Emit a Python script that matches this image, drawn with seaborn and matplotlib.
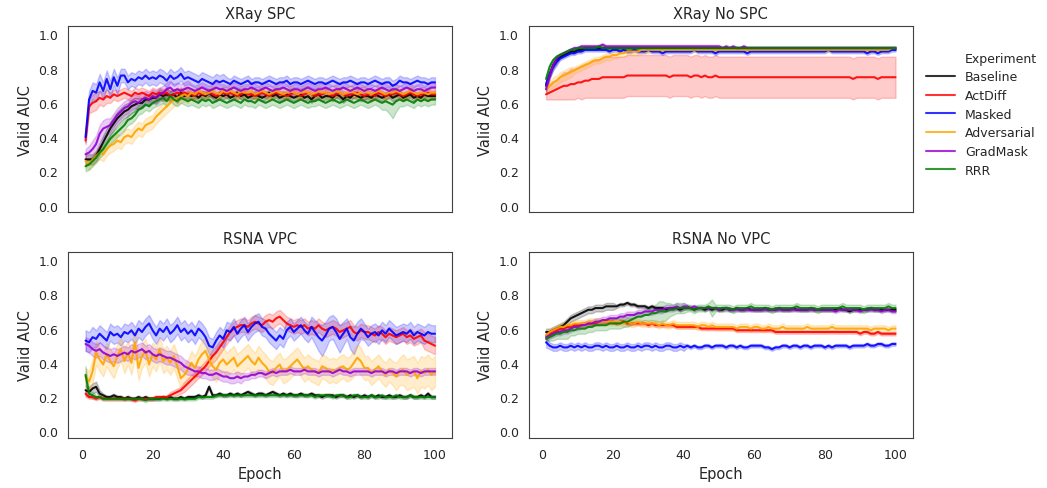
import numpy as np
import pandas as pd
import seaborn as sns
import matplotlib.pyplot as plt
from matplotlib.lines import Line2D

# validation AUC per epoch (x100), mean curve and half width of the shaded band
EPOCHS = list(range(1, 101))
EXPERIMENTS = ["Baseline", "ActDiff", "Masked", "Adversarial", "GradMask", "RRR"]
COLORS = ["black", "red", "blue", "orange", "darkviolet", "green"]
PANELS = ["XRay SPC", "XRay No SPC", "RSNA VPC", "RSNA No VPC"]

# ---------------- XRay SPC ----------------
xs_baseline = [
    27, 27, 27, 29, 33, 37, 41, 45, 48, 51,
    53, 55, 56, 58, 59, 60, 60, 62, 62, 63,
    63, 65, 64, 65, 64, 65, 63, 66, 64, 65,
    64, 65, 63, 65, 64, 66, 64, 63, 65, 64,
    65, 63, 64, 66, 64, 65, 63, 64, 65, 64,
    63, 64, 66, 64, 65, 63, 64, 65, 64, 63,
    64, 65, 63, 64, 62, 64, 65, 63, 64, 64,
    63, 65, 64, 62, 64, 63, 65, 64, 63, 64,
    64, 63, 65, 64, 63, 64, 65, 63, 64, 65,
    63, 64, 65, 63, 64, 63, 65, 64, 64, 64]
xs_baseline_ci = [
    3, 3, 3, 3, 3, 4, 4, 4, 4, 4,
    4, 4, 4, 4, 4, 3, 3, 3, 3, 3,
    3, 3, 3, 3, 3, 3, 3, 3, 2, 2,
    2, 2, 2, 2, 2, 2, 2, 2, 2, 2,
    2, 2, 2, 2, 2, 2, 2, 2, 2, 2,
    2, 2, 2, 2, 2, 2, 2, 2, 2, 2,
    2, 2, 2, 2, 2, 2, 2, 2, 2, 2,
    2, 2, 2, 2, 2, 2, 2, 2, 2, 2,
    2, 2, 2, 2, 2, 2, 2, 2, 2, 2,
    2, 2, 2, 2, 2, 2, 2, 2, 2, 2]
xs_actdiff = [
    38, 58, 60, 61, 63, 62, 64, 63, 65, 64,
    65, 66, 65, 64, 66, 65, 66, 65, 64, 66,
    65, 66, 65, 66, 64, 65, 66, 65, 66, 65,
    65, 64, 66, 65, 65, 66, 65, 64, 65, 66,
    65, 66, 65, 64, 65, 66, 65, 65, 64, 65,
    66, 65, 64, 65, 66, 65, 65, 64, 65, 66,
    65, 64, 65, 66, 65, 64, 65, 65, 66, 65,
    64, 65, 66, 65, 64, 65, 65, 66, 65, 64,
    65, 65, 64, 66, 65, 64, 65, 65, 66, 65,
    64, 65, 66, 65, 64, 65, 65, 66, 65, 65]
xs_actdiff_ci = [
    2, 4, 5, 5, 4, 4, 4, 3, 3, 3,
    3, 3, 3, 3, 3, 3, 3, 3, 3, 3,
    3, 3, 3, 3, 3, 3, 3, 3, 3, 3,
    2, 2, 2, 2, 2, 2, 2, 2, 2, 2,
    2, 2, 2, 2, 2, 2, 2, 2, 2, 2,
    2, 2, 2, 2, 2, 2, 2, 2, 2, 2,
    2, 2, 2, 2, 2, 2, 2, 2, 2, 2,
    2, 2, 2, 2, 2, 2, 2, 2, 2, 2,
    2, 2, 2, 2, 2, 2, 2, 2, 2, 2,
    2, 2, 2, 2, 2, 2, 2, 2, 2, 2]
xs_masked = [
    40, 62, 67, 66, 72, 67, 74, 68, 75, 70,
    76, 76, 72, 74, 73, 75, 74, 76, 74, 75,
    74, 76, 75, 73, 76, 74, 75, 77, 74, 75,
    74, 73, 72, 74, 73, 72, 71, 73, 72, 73,
    72, 71, 73, 72, 71, 72, 73, 71, 72, 72,
    71, 72, 73, 72, 71, 72, 72, 73, 71, 72,
    72, 71, 72, 73, 72, 71, 72, 72, 71, 72,
    73, 72, 71, 72, 72, 73, 72, 71, 72, 72,
    71, 72, 73, 72, 71, 72, 72, 70, 71, 73,
    72, 72, 71, 72, 73, 72, 72, 71, 72, 72]
xs_masked_ci = [
    3, 5, 5, 5, 5, 5, 5, 5, 5, 5,
    4, 4, 4, 4, 4, 4, 4, 4, 4, 4,
    4, 4, 4, 4, 4, 4, 4, 4, 4, 4,
    4, 4, 4, 4, 4, 4, 4, 4, 4, 4,
    3, 3, 3, 3, 3, 3, 3, 3, 3, 3,
    3, 3, 3, 3, 3, 3, 3, 3, 3, 3,
    3, 3, 3, 3, 3, 3, 3, 3, 3, 3,
    3, 3, 3, 3, 3, 3, 3, 3, 3, 3,
    3, 3, 3, 3, 3, 3, 3, 3, 3, 3,
    3, 3, 3, 3, 3, 3, 3, 3, 3, 3]
xs_adversarial = [
    26, 24, 27, 29, 31, 30, 33, 35, 36, 38,
    37, 40, 41, 40, 43, 45, 44, 47, 48, 49,
    52, 54, 56, 58, 60, 62, 63, 64, 65, 64,
    66, 65, 67, 66, 65, 66, 67, 66, 65, 67,
    66, 67, 66, 65, 67, 66, 66, 67, 65, 66,
    67, 66, 65, 66, 67, 66, 65, 66, 67, 66,
    65, 66, 67, 66, 65, 66, 67, 66, 66, 65,
    66, 67, 66, 65, 66, 67, 66, 65, 66, 67,
    66, 65, 66, 67, 66, 65, 66, 66, 67, 66,
    65, 66, 67, 66, 65, 66, 66, 65, 66, 66]
xs_adversarial_ci = [
    3, 3, 3, 3, 4, 4, 4, 4, 4, 4,
    4, 4, 4, 4, 4, 4, 4, 4, 4, 4,
    4, 4, 4, 4, 4, 4, 4, 4, 4, 4,
    3, 3, 3, 3, 3, 3, 3, 3, 3, 3,
    3, 3, 3, 3, 3, 3, 3, 3, 3, 3,
    3, 3, 3, 3, 3, 3, 3, 3, 3, 3,
    3, 3, 3, 3, 3, 3, 3, 3, 3, 3,
    3, 3, 3, 3, 3, 3, 3, 3, 3, 3,
    3, 3, 3, 3, 3, 3, 3, 3, 3, 3,
    3, 3, 3, 3, 3, 3, 3, 3, 3, 3]
xs_gradmask = [
    30, 31, 33, 36, 42, 45, 46, 47, 50, 53,
    55, 57, 58, 60, 61, 60, 62, 63, 62, 64,
    63, 65, 66, 68, 69, 67, 68, 67, 68, 69,
    68, 67, 68, 69, 68, 67, 68, 69, 68, 68,
    67, 68, 69, 68, 67, 68, 68, 69, 68, 67,
    68, 69, 68, 67, 68, 68, 69, 68, 67, 68,
    68, 67, 68, 69, 68, 67, 68, 68, 69, 68,
    67, 68, 68, 69, 68, 67, 68, 69, 68, 67,
    68, 68, 67, 68, 69, 68, 67, 68, 68, 67,
    68, 69, 68, 67, 68, 68, 67, 68, 69, 69]
xs_gradmask_ci = [
    3, 4, 5, 5, 5, 5, 5, 4, 4, 4,
    4, 4, 4, 4, 4, 4, 4, 4, 4, 4,
    4, 4, 4, 4, 4, 4, 4, 4, 4, 4,
    3, 3, 3, 3, 3, 3, 3, 3, 3, 3,
    3, 3, 3, 3, 3, 3, 3, 3, 3, 3,
    3, 3, 3, 3, 3, 3, 3, 3, 3, 3,
    3, 3, 3, 3, 3, 3, 3, 3, 3, 3,
    3, 3, 3, 3, 3, 3, 3, 3, 3, 3,
    3, 3, 3, 3, 3, 3, 3, 3, 3, 3,
    3, 3, 3, 3, 3, 3, 3, 3, 3, 3]
xs_rrr = [
    23, 24, 26, 28, 31, 33, 36, 39, 41, 43,
    45, 47, 50, 51, 53, 56, 57, 59, 58, 60,
    61, 62, 63, 61, 64, 62, 61, 63, 62, 61,
    62, 61, 60, 62, 61, 62, 60, 61, 62, 61,
    60, 61, 62, 61, 60, 62, 61, 61, 60, 62,
    61, 60, 61, 62, 61, 60, 61, 62, 61, 60,
    61, 62, 61, 60, 61, 61, 62, 61, 60, 61,
    62, 61, 60, 61, 62, 61, 60, 61, 62, 61,
    60, 61, 62, 61, 60, 61, 60, 59, 61, 62,
    61, 62, 61, 60, 62, 61, 62, 61, 62, 62]
xs_rrr_ci = [
    3, 3, 3, 3, 3, 3, 3, 3, 3, 3,
    3, 3, 3, 3, 3, 3, 3, 3, 3, 3,
    3, 3, 3, 3, 3, 3, 3, 3, 3, 3,
    3, 3, 3, 3, 3, 3, 3, 3, 3, 3,
    3, 3, 3, 3, 3, 3, 3, 3, 3, 3,
    3, 3, 3, 3, 3, 3, 3, 3, 3, 3,
    3, 3, 3, 3, 3, 3, 3, 3, 3, 3,
    3, 3, 3, 3, 3, 3, 3, 3, 3, 3,
    3, 3, 3, 3, 4, 5, 6, 8, 6, 4,
    3, 3, 3, 3, 3, 3, 3, 3, 3, 3]

# ---------------- XRay No SPC ----------------
xn_baseline = [
    70, 76, 82, 85, 87, 88, 89, 90, 90, 91,
    91, 92, 92, 92, 92, 92, 92, 92, 92, 92,
    92, 92, 92, 92, 92, 92, 92, 92, 92, 92,
    92, 92, 92, 92, 92, 92, 92, 92, 92, 92,
    92, 92, 92, 92, 92, 92, 92, 92, 92, 92,
    92, 92, 92, 92, 92, 92, 92, 92, 92, 92,
    92, 92, 92, 92, 92, 92, 92, 92, 92, 92,
    92, 92, 92, 92, 92, 92, 92, 92, 92, 92,
    92, 92, 92, 92, 92, 92, 92, 92, 92, 92,
    92, 92, 92, 92, 92, 92, 92, 92, 92, 92]
xn_baseline_ci = [
    3, 2, 2, 2, 1, 1, 1, 1, 1, 1,
    1, 1, 1, 1, 1, 1, 1, 1, 1, 1,
    1, 1, 1, 1, 1, 1, 1, 1, 1, 1,
    1, 1, 1, 1, 1, 1, 1, 1, 1, 1,
    1, 1, 1, 1, 1, 1, 1, 1, 1, 1,
    1, 1, 1, 1, 1, 1, 1, 1, 1, 1,
    1, 1, 1, 1, 1, 1, 1, 1, 1, 1,
    1, 1, 1, 1, 1, 1, 1, 1, 1, 1,
    1, 1, 1, 1, 1, 1, 1, 1, 1, 1,
    1, 1, 1, 1, 1, 1, 1, 1, 1, 1]
xn_actdiff = [
    65, 66, 67, 68, 69, 70, 70, 71, 71, 72,
    72, 73, 73, 74, 74, 74, 75, 75, 75, 75,
    75, 75, 75, 76, 76, 76, 76, 76, 76, 76,
    76, 76, 76, 76, 76, 75, 76, 76, 76, 76,
    76, 75, 76, 76, 75, 76, 75, 75, 76, 75,
    75, 75, 75, 75, 75, 75, 75, 75, 75, 75,
    75, 75, 75, 75, 75, 75, 75, 75, 75, 75,
    75, 75, 75, 75, 75, 75, 75, 75, 75, 75,
    75, 75, 75, 75, 75, 75, 75, 74, 75, 75,
    75, 75, 75, 75, 74, 75, 75, 75, 75, 75]
xn_actdiff_ci = [
    3, 4, 5, 6, 7, 8, 8, 9, 9, 9,
    10, 10, 10, 11, 11, 11, 12, 12, 12, 12,
    12, 12, 12, 12, 12, 12, 12, 12, 12, 12,
    12, 12, 12, 12, 12, 12, 12, 12, 12, 12,
    12, 12, 12, 12, 12, 12, 12, 12, 12, 12,
    12, 12, 12, 12, 12, 12, 12, 12, 12, 12,
    12, 12, 12, 12, 12, 12, 12, 12, 12, 12,
    12, 12, 12, 12, 12, 12, 12, 12, 12, 12,
    12, 12, 12, 12, 12, 12, 12, 12, 12, 12,
    12, 12, 12, 12, 12, 12, 12, 12, 12, 12]
xn_masked = [
    71, 77, 81, 84, 86, 87, 88, 89, 89, 90,
    90, 91, 91, 91, 91, 91, 91, 91, 90, 91,
    91, 90, 91, 90, 90, 91, 90, 90, 90, 91,
    90, 90, 90, 89, 90, 90, 90, 90, 90, 90,
    90, 90, 91, 90, 90, 90, 90, 90, 89, 90,
    90, 90, 90, 90, 90, 90, 90, 89, 90, 90,
    90, 90, 90, 90, 90, 90, 90, 90, 90, 90,
    90, 90, 90, 90, 90, 90, 90, 90, 90, 90,
    91, 90, 90, 90, 90, 90, 90, 90, 90, 90,
    90, 89, 90, 90, 89, 90, 90, 90, 91, 91]
xn_masked_ci = [
    3, 2, 2, 2, 1, 1, 1, 1, 1, 1,
    1, 1, 1, 1, 1, 1, 1, 1, 1, 1,
    1, 1, 1, 1, 1, 1, 1, 1, 1, 1,
    1, 1, 1, 1, 1, 1, 1, 1, 1, 1,
    1, 1, 1, 1, 1, 1, 1, 1, 1, 1,
    1, 1, 1, 1, 1, 1, 1, 1, 1, 1,
    1, 1, 1, 1, 1, 1, 1, 1, 1, 1,
    1, 1, 1, 1, 1, 1, 1, 1, 1, 1,
    1, 1, 1, 1, 1, 1, 1, 1, 1, 1,
    1, 1, 1, 1, 1, 1, 1, 1, 1, 1]
xn_adversarial = [
    68, 70, 72, 73, 75, 76, 77, 78, 79, 80,
    81, 82, 83, 84, 85, 85, 86, 87, 87, 88,
    88, 89, 89, 90, 90, 90, 90, 91, 91, 91,
    91, 91, 91, 91, 91, 91, 91, 91, 91, 91,
    91, 91, 91, 91, 91, 91, 91, 91, 91, 91,
    91, 91, 91, 91, 91, 91, 91, 91, 91, 91,
    91, 91, 91, 91, 91, 91, 91, 91, 91, 91,
    91, 91, 91, 91, 91, 91, 91, 91, 91, 91,
    91, 91, 91, 91, 91, 91, 91, 91, 91, 91,
    91, 91, 91, 91, 91, 91, 91, 91, 92, 92]
xn_adversarial_ci = [
    2, 2, 3, 3, 3, 3, 3, 3, 2, 2,
    2, 2, 2, 2, 2, 2, 2, 2, 2, 2,
    2, 2, 2, 2, 2, 2, 2, 2, 2, 2,
    1, 1, 1, 1, 1, 1, 1, 1, 1, 1,
    1, 1, 1, 1, 1, 1, 1, 1, 1, 1,
    1, 1, 1, 1, 1, 1, 1, 1, 1, 1,
    1, 1, 1, 1, 1, 1, 1, 1, 1, 1,
    1, 1, 1, 1, 1, 1, 1, 1, 1, 1,
    1, 1, 1, 1, 1, 1, 1, 1, 1, 1,
    1, 1, 1, 1, 1, 1, 1, 1, 1, 1]
xn_gradmask = [
    68, 76, 82, 86, 88, 89, 90, 91, 92, 92,
    93, 93, 93, 93, 93, 93, 94, 93, 93, 93,
    93, 93, 93, 93, 93, 93, 93, 93, 93, 93,
    93, 93, 93, 93, 93, 93, 93, 93, 93, 93,
    93, 93, 93, 93, 93, 93, 93, 93, 93, 93,
    92, 93, 92, 93, 92, 92, 93, 92, 92, 92,
    92, 92, 92, 92, 92, 92, 92, 92, 92, 92,
    92, 92, 92, 92, 92, 92, 92, 92, 92, 92,
    92, 92, 92, 92, 92, 92, 92, 92, 92, 92,
    92, 92, 92, 92, 92, 92, 92, 92, 92, 92]
xn_gradmask_ci = [
    2, 2, 2, 2, 1, 1, 1, 1, 1, 1,
    1, 1, 1, 1, 1, 1, 1, 1, 1, 1,
    1, 1, 1, 1, 1, 1, 1, 1, 1, 1,
    1, 1, 1, 1, 1, 1, 1, 1, 1, 1,
    1, 1, 1, 1, 1, 1, 1, 1, 1, 1,
    1, 1, 1, 1, 1, 1, 1, 1, 1, 1,
    1, 1, 1, 1, 1, 1, 1, 1, 1, 1,
    1, 1, 1, 1, 1, 1, 1, 1, 1, 1,
    1, 1, 1, 1, 1, 1, 1, 1, 1, 1,
    1, 1, 1, 1, 1, 1, 1, 1, 1, 1]
xn_rrr = [
    74, 81, 85, 87, 88, 89, 90, 91, 91, 92,
    92, 92, 92, 92, 92, 93, 92, 92, 92, 92,
    92, 92, 92, 92, 92, 92, 92, 92, 92, 92,
    92, 92, 92, 92, 92, 92, 92, 92, 92, 92,
    92, 92, 92, 92, 92, 92, 92, 92, 92, 92,
    92, 92, 92, 92, 92, 92, 92, 92, 92, 92,
    92, 92, 92, 92, 92, 92, 92, 92, 92, 92,
    92, 92, 92, 92, 92, 92, 92, 92, 92, 92,
    92, 92, 92, 92, 92, 92, 92, 92, 92, 92,
    92, 92, 92, 92, 92, 92, 92, 92, 92, 92]
xn_rrr_ci = [
    2, 2, 1, 1, 1, 1, 1, 1, 1, 1,
    1, 1, 1, 1, 1, 1, 1, 1, 1, 1,
    1, 1, 1, 1, 1, 1, 1, 1, 1, 1,
    1, 1, 1, 1, 1, 1, 1, 1, 1, 1,
    1, 1, 1, 1, 1, 1, 1, 1, 1, 1,
    1, 1, 1, 1, 1, 1, 1, 1, 1, 1,
    1, 1, 1, 1, 1, 1, 1, 1, 1, 1,
    1, 1, 1, 1, 1, 1, 1, 1, 1, 1,
    1, 1, 1, 1, 1, 1, 1, 1, 1, 1,
    1, 1, 1, 1, 1, 1, 1, 1, 1, 1]

# ---------------- RSNA VPC ----------------
rv_baseline = [
    24, 23, 25, 26, 22, 21, 20, 20, 21, 20,
    20, 19, 20, 19, 19, 20, 19, 20, 19, 19,
    19, 19, 20, 19, 20, 19, 19, 20, 19, 20,
    20, 20, 21, 20, 21, 26, 21, 21, 22, 21,
    21, 22, 21, 22, 21, 22, 23, 22, 21, 22,
    22, 21, 22, 23, 22, 21, 22, 21, 22, 21,
    21, 22, 21, 21, 22, 21, 21, 20, 21, 21,
    21, 20, 21, 21, 20, 21, 20, 21, 20, 21,
    20, 21, 20, 21, 20, 20, 21, 20, 20, 21,
    20, 20, 21, 20, 20, 21, 20, 22, 20, 20]
rv_baseline_ci = [
    3, 3, 3, 3, 2, 1, 1, 1, 1, 1,
    1, 1, 1, 1, 1, 1, 1, 1, 1, 1,
    1, 1, 1, 1, 1, 1, 1, 1, 1, 1,
    1, 1, 1, 1, 1, 1, 1, 1, 1, 1,
    1, 1, 1, 1, 1, 1, 1, 1, 1, 1,
    1, 1, 1, 1, 1, 1, 1, 1, 1, 1,
    1, 1, 1, 1, 1, 1, 1, 1, 1, 1,
    1, 1, 1, 1, 1, 1, 1, 1, 1, 1,
    1, 1, 1, 1, 1, 1, 1, 1, 1, 1,
    1, 1, 1, 1, 1, 1, 1, 1, 1, 1]
rv_actdiff = [
    22, 20, 20, 19, 20, 19, 19, 19, 19, 19,
    19, 19, 19, 19, 18, 19, 19, 19, 19, 19,
    20, 20, 20, 20, 21, 22, 23, 24, 26, 28,
    30, 32, 34, 36, 38, 41, 44, 46, 49, 52,
    55, 58, 60, 61, 62, 62, 61, 63, 64, 63,
    62, 64, 65, 64, 66, 67, 65, 63, 62, 61,
    62, 61, 62, 60, 61, 60, 62, 60, 59, 60,
    61, 60, 58, 59, 60, 61, 58, 57, 59, 58,
    58, 57, 56, 58, 57, 55, 57, 56, 55, 56,
    57, 55, 56, 54, 55, 56, 53, 52, 51, 50]
rv_actdiff_ci = [
    2, 1, 1, 1, 1, 1, 1, 1, 1, 1,
    1, 1, 1, 1, 1, 1, 1, 1, 1, 1,
    1, 1, 1, 1, 2, 2, 2, 2, 3, 3,
    3, 3, 3, 3, 3, 3, 4, 4, 4, 4,
    4, 4, 4, 4, 4, 4, 4, 4, 4, 4,
    4, 4, 4, 4, 4, 4, 4, 4, 4, 4,
    4, 4, 4, 4, 4, 4, 4, 4, 4, 4,
    4, 4, 4, 4, 4, 4, 4, 4, 4, 4,
    4, 4, 4, 4, 4, 4, 4, 4, 4, 4,
    4, 4, 4, 4, 4, 4, 5, 5, 5, 5]
rv_masked = [
    53, 52, 55, 54, 57, 55, 53, 58, 56, 57,
    55, 58, 57, 59, 56, 60, 58, 61, 63, 59,
    56, 60, 58, 61, 57, 59, 62, 58, 60, 57,
    59, 56, 60, 58, 55, 50, 49, 53, 56, 54,
    59, 58, 61, 57, 60, 62, 58, 61, 63, 64,
    61, 60, 57, 55, 53, 56, 54, 59, 61, 58,
    60, 62, 59, 57, 61, 58, 55, 53, 56, 60,
    61, 58, 54, 57, 60, 55, 53, 57, 60, 58,
    55, 57, 58, 56, 59, 57, 60, 58, 56, 57,
    58, 57, 59, 56, 58, 57, 56, 58, 57, 57]
rv_masked_ci = [
    6, 6, 6, 5, 5, 5, 5, 5, 5, 5,
    5, 5, 5, 5, 5, 5, 5, 5, 5, 5,
    5, 5, 5, 5, 5, 5, 5, 5, 5, 5,
    5, 5, 5, 5, 5, 5, 5, 5, 5, 5,
    5, 5, 5, 5, 5, 5, 5, 5, 5, 5,
    5, 5, 5, 5, 5, 5, 5, 5, 5, 5,
    5, 5, 5, 5, 6, 7, 8, 9, 8, 7,
    7, 8, 8, 7, 6, 7, 8, 7, 6, 5,
    5, 5, 5, 5, 5, 5, 5, 5, 5, 5,
    5, 5, 5, 5, 5, 5, 5, 5, 5, 5]
rv_adversarial = [
    32, 29, 35, 46, 42, 39, 45, 41, 38, 44,
    48, 41, 46, 40, 52, 37, 44, 47, 39, 45,
    42, 48, 41, 43, 40, 44, 38, 31, 33, 36,
    40, 37, 42, 45, 47, 42, 38, 36, 40, 42,
    39, 41, 43, 38, 40, 42, 44, 41, 39, 43,
    40, 38, 35, 34, 37, 39, 35, 36, 38, 40,
    42, 39, 36, 38, 36, 35, 34, 38, 37, 35,
    36, 35, 37, 38, 36, 37, 40, 43, 41, 37,
    37, 34, 36, 38, 35, 33, 36, 34, 32, 35,
    36, 33, 34, 35, 31, 35, 34, 36, 33, 35]
rv_adversarial_ci = [
    5, 6, 7, 7, 7, 7, 7, 7, 7, 7,
    7, 7, 7, 7, 8, 7, 7, 7, 7, 7,
    7, 7, 7, 7, 7, 7, 7, 6, 6, 6,
    7, 7, 7, 8, 8, 7, 7, 7, 7, 7,
    7, 7, 7, 7, 7, 7, 7, 7, 7, 7,
    7, 7, 7, 7, 7, 7, 7, 7, 7, 7,
    7, 7, 7, 7, 7, 7, 7, 7, 7, 7,
    7, 7, 7, 7, 7, 7, 8, 8, 8, 7,
    7, 7, 7, 7, 7, 7, 7, 7, 8, 8,
    9, 9, 9, 9, 9, 9, 9, 9, 9, 9]
rv_gradmask = [
    51, 50, 48, 47, 48, 46, 45, 44, 45, 44,
    45, 46, 45, 47, 46, 47, 48, 46, 47, 45,
    44, 45, 44, 43, 43, 42, 41, 40, 38, 37,
    36, 35, 35, 34, 34, 33, 33, 34, 33, 32,
    32, 31, 31, 32, 31, 32, 32, 33, 33, 34,
    34, 33, 34, 35, 34, 35, 35, 35, 36, 35,
    35, 35, 36, 35, 35, 35, 34, 35, 35, 35,
    34, 35, 36, 35, 35, 34, 35, 35, 35, 35,
    35, 34, 35, 35, 35, 34, 35, 35, 34, 35,
    35, 35, 34, 35, 35, 34, 35, 35, 35, 35]
rv_gradmask_ci = [
    4, 4, 4, 4, 4, 4, 4, 4, 4, 4,
    4, 4, 4, 4, 4, 4, 4, 4, 4, 4,
    4, 4, 4, 4, 4, 4, 4, 4, 4, 4,
    3, 3, 3, 3, 3, 3, 3, 3, 3, 3,
    3, 3, 3, 3, 3, 2, 2, 2, 2, 2,
    2, 2, 2, 2, 2, 2, 2, 2, 2, 2,
    2, 2, 2, 2, 2, 2, 2, 2, 2, 2,
    2, 2, 2, 2, 2, 2, 2, 2, 2, 2,
    2, 2, 2, 2, 2, 2, 2, 2, 2, 2,
    2, 2, 2, 2, 2, 2, 2, 2, 2, 2]
rv_rrr = [
    33, 22, 21, 20, 20, 19, 19, 19, 19, 19,
    19, 19, 19, 19, 19, 19, 19, 18, 19, 19,
    19, 19, 19, 19, 19, 19, 19, 19, 19, 19,
    19, 19, 20, 20, 20, 20, 20, 21, 21, 21,
    21, 21, 21, 21, 21, 21, 21, 21, 21, 21,
    21, 21, 21, 21, 21, 21, 21, 21, 21, 21,
    21, 21, 21, 21, 21, 20, 21, 21, 21, 21,
    20, 21, 21, 21, 20, 20, 21, 21, 20, 20,
    20, 21, 20, 20, 21, 20, 20, 20, 21, 20,
    20, 20, 21, 20, 20, 20, 20, 20, 20, 20]
rv_rrr_ci = [
    5, 2, 2, 1, 1, 1, 1, 1, 1, 1,
    1, 1, 1, 1, 1, 1, 1, 1, 1, 1,
    1, 1, 1, 1, 1, 1, 1, 1, 1, 1,
    1, 1, 1, 1, 1, 1, 1, 1, 1, 1,
    1, 1, 1, 1, 1, 1, 1, 1, 1, 1,
    1, 1, 1, 1, 1, 1, 1, 1, 1, 1,
    1, 1, 1, 1, 1, 1, 1, 1, 1, 1,
    1, 1, 1, 1, 1, 1, 1, 1, 1, 1,
    1, 1, 1, 1, 1, 1, 1, 1, 1, 1,
    1, 1, 1, 1, 1, 1, 1, 1, 1, 1]

# ---------------- RSNA No VPC ----------------
rn_baseline = [
    58, 58, 59, 60, 61, 62, 64, 66, 67, 68,
    69, 70, 71, 71, 72, 72, 72, 73, 73, 73,
    73, 74, 74, 75, 74, 74, 73, 73, 73, 72,
    73, 72, 72, 72, 71, 72, 72, 72, 71, 72,
    72, 72, 71, 72, 72, 71, 72, 71, 72, 71,
    71, 72, 71, 71, 72, 71, 71, 72, 71, 71,
    71, 71, 72, 71, 71, 71, 72, 71, 71, 71,
    72, 71, 71, 71, 71, 72, 71, 71, 71, 71,
    71, 71, 71, 72, 71, 71, 70, 71, 71, 71,
    71, 71, 72, 71, 71, 71, 71, 71, 71, 71]
rn_baseline_ci = [
    2, 2, 2, 2, 2, 2, 2, 2, 2, 2,
    2, 2, 2, 2, 2, 2, 2, 2, 2, 2,
    1, 1, 1, 1, 1, 1, 1, 1, 1, 1,
    1, 1, 1, 1, 1, 1, 1, 1, 1, 1,
    1, 1, 1, 1, 1, 1, 1, 1, 1, 1,
    1, 1, 1, 1, 1, 1, 1, 1, 1, 1,
    1, 1, 1, 1, 1, 1, 1, 1, 1, 1,
    1, 1, 1, 1, 1, 1, 1, 1, 1, 1,
    1, 1, 1, 1, 1, 1, 1, 1, 1, 1,
    1, 1, 1, 1, 1, 1, 1, 1, 1, 1]
rn_actdiff = [
    56, 57, 58, 59, 60, 60, 61, 61, 62, 62,
    62, 63, 63, 63, 63, 64, 64, 64, 64, 64,
    63, 64, 64, 63, 63, 63, 63, 63, 63, 62,
    63, 62, 62, 62, 62, 62, 62, 61, 61, 61,
    61, 61, 61, 61, 60, 60, 60, 60, 60, 60,
    60, 60, 60, 60, 59, 59, 59, 59, 59, 59,
    59, 59, 59, 59, 59, 58, 58, 58, 58, 58,
    58, 58, 58, 58, 58, 58, 58, 58, 58, 58,
    58, 58, 58, 58, 58, 58, 58, 58, 58, 57,
    58, 58, 57, 57, 58, 57, 57, 57, 57, 57]
rn_actdiff_ci = [
    2, 2, 2, 1, 1, 1, 1, 1, 1, 1,
    1, 1, 1, 1, 1, 1, 1, 1, 1, 1,
    1, 1, 1, 1, 1, 1, 1, 1, 1, 1,
    1, 1, 1, 1, 1, 1, 1, 1, 1, 1,
    1, 1, 1, 1, 1, 1, 1, 1, 1, 1,
    1, 1, 1, 1, 1, 1, 1, 1, 1, 1,
    1, 1, 1, 1, 1, 1, 1, 1, 1, 1,
    1, 1, 1, 1, 1, 1, 1, 1, 1, 1,
    1, 1, 1, 1, 1, 1, 1, 1, 1, 1,
    1, 1, 1, 1, 1, 1, 1, 1, 1, 1]
rn_masked = [
    52, 50, 49, 49, 50, 49, 49, 50, 49, 50,
    49, 50, 49, 49, 50, 50, 49, 50, 49, 49,
    50, 49, 49, 50, 49, 49, 50, 49, 50, 50,
    49, 50, 49, 49, 50, 50, 49, 49, 50, 49,
    50, 49, 50, 49, 49, 50, 50, 49, 50, 50,
    50, 49, 50, 50, 49, 50, 49, 49, 50, 50,
    50, 50, 49, 49, 48, 49, 49, 50, 50, 49,
    50, 50, 49, 50, 50, 49, 50, 50, 50, 49,
    50, 49, 50, 50, 50, 50, 49, 50, 50, 50,
    50, 51, 50, 50, 51, 51, 50, 50, 51, 51]
rn_masked_ci = [
    3, 2, 2, 2, 2, 2, 2, 2, 2, 2,
    2, 2, 2, 2, 2, 2, 2, 2, 2, 2,
    2, 2, 2, 2, 2, 2, 2, 2, 2, 2,
    2, 2, 2, 2, 2, 2, 2, 2, 2, 2,
    1, 1, 1, 1, 1, 1, 1, 1, 1, 1,
    1, 1, 1, 1, 1, 1, 1, 1, 1, 1,
    1, 1, 1, 1, 1, 1, 1, 1, 1, 1,
    1, 1, 1, 1, 1, 1, 1, 1, 1, 1,
    1, 1, 1, 1, 1, 1, 1, 1, 1, 1,
    1, 1, 1, 1, 1, 1, 1, 1, 1, 1]
rn_adversarial = [
    56, 58, 59, 60, 61, 61, 62, 62, 63, 63,
    63, 63, 64, 64, 64, 64, 64, 64, 64, 64,
    64, 64, 63, 64, 63, 63, 64, 63, 63, 63,
    63, 63, 62, 63, 62, 62, 63, 62, 62, 62,
    62, 62, 62, 61, 62, 62, 61, 62, 61, 61,
    61, 61, 61, 61, 60, 61, 61, 61, 60, 61,
    61, 60, 60, 61, 60, 60, 60, 61, 60, 60,
    60, 60, 60, 60, 61, 60, 60, 60, 60, 60,
    60, 61, 60, 60, 60, 60, 60, 60, 60, 60,
    60, 60, 59, 60, 60, 60, 60, 59, 60, 60]
rn_adversarial_ci = [
    2, 2, 2, 2, 2, 2, 2, 2, 2, 2,
    2, 2, 2, 2, 2, 2, 2, 2, 2, 2,
    2, 2, 2, 2, 2, 2, 2, 2, 2, 2,
    2, 2, 2, 2, 2, 2, 2, 2, 2, 2,
    2, 2, 2, 2, 2, 2, 2, 2, 2, 2,
    2, 2, 2, 2, 2, 2, 2, 2, 2, 2,
    2, 2, 2, 2, 2, 2, 2, 2, 2, 2,
    2, 2, 2, 2, 2, 2, 2, 2, 2, 2,
    2, 2, 2, 2, 2, 2, 2, 2, 2, 2,
    2, 2, 2, 2, 2, 2, 2, 2, 2, 2]
rn_gradmask = [
    55, 56, 57, 58, 58, 59, 59, 60, 61, 61,
    62, 62, 63, 63, 64, 64, 65, 65, 66, 66,
    66, 67, 67, 68, 68, 68, 69, 69, 70, 70,
    70, 71, 71, 71, 72, 72, 72, 73, 72, 73,
    73, 72, 73, 72, 72, 72, 72, 72, 72, 71,
    72, 72, 71, 71, 71, 71, 71, 71, 71, 71,
    71, 71, 71, 71, 71, 71, 71, 71, 71, 71,
    71, 71, 71, 71, 71, 71, 71, 71, 71, 71,
    71, 71, 70, 71, 71, 71, 71, 71, 71, 70,
    71, 71, 71, 71, 71, 70, 71, 71, 70, 70]
rn_gradmask_ci = [
    2, 2, 2, 2, 2, 2, 2, 2, 2, 2,
    2, 2, 2, 2, 2, 2, 2, 2, 2, 2,
    2, 2, 2, 2, 2, 2, 2, 2, 2, 2,
    2, 2, 2, 2, 2, 2, 2, 2, 2, 2,
    1, 1, 1, 1, 1, 1, 1, 1, 1, 1,
    1, 1, 1, 1, 1, 1, 1, 1, 1, 1,
    1, 1, 1, 1, 1, 1, 1, 1, 1, 1,
    1, 1, 1, 1, 1, 1, 1, 1, 1, 1,
    1, 1, 1, 1, 1, 1, 1, 1, 1, 1,
    1, 1, 1, 1, 1, 1, 1, 1, 1, 1]
rn_rrr = [
    54, 55, 56, 57, 57, 58, 58, 59, 59, 60,
    60, 60, 61, 61, 62, 62, 62, 62, 63, 63,
    63, 63, 64, 64, 65, 66, 67, 67, 68, 68,
    69, 69, 70, 70, 70, 71, 71, 72, 72, 72,
    72, 72, 71, 72, 72, 72, 73, 72, 72, 72,
    72, 72, 72, 71, 72, 72, 72, 72, 73, 72,
    72, 72, 72, 72, 71, 72, 72, 72, 72, 72,
    72, 73, 72, 72, 72, 72, 72, 71, 72, 72,
    72, 72, 72, 72, 73, 72, 72, 72, 72, 72,
    71, 72, 72, 72, 72, 72, 72, 73, 72, 72]
rn_rrr_ci = [
    2, 2, 3, 3, 3, 4, 4, 3, 3, 3,
    3, 3, 3, 3, 3, 3, 3, 3, 3, 3,
    3, 3, 3, 3, 3, 3, 3, 3, 3, 4,
    4, 5, 6, 6, 5, 4, 3, 3, 3, 3,
    2, 2, 2, 2, 2, 2, 2, 5, 2, 2,
    2, 2, 2, 2, 2, 2, 2, 2, 2, 2,
    2, 2, 2, 2, 2, 2, 2, 2, 2, 2,
    2, 2, 2, 2, 2, 2, 2, 2, 2, 2,
    2, 2, 2, 2, 2, 2, 2, 2, 2, 2,
    2, 2, 2, 2, 2, 2, 2, 2, 2, 2]

SERIES = {
    "XRay SPC": [(xs_baseline, xs_baseline_ci), (xs_actdiff, xs_actdiff_ci), (xs_masked, xs_masked_ci),
                 (xs_adversarial, xs_adversarial_ci), (xs_gradmask, xs_gradmask_ci), (xs_rrr, xs_rrr_ci)],
    "XRay No SPC": [(xn_baseline, xn_baseline_ci), (xn_actdiff, xn_actdiff_ci), (xn_masked, xn_masked_ci),
                    (xn_adversarial, xn_adversarial_ci), (xn_gradmask, xn_gradmask_ci), (xn_rrr, xn_rrr_ci)],
    "RSNA VPC": [(rv_baseline, rv_baseline_ci), (rv_actdiff, rv_actdiff_ci), (rv_masked, rv_masked_ci),
                 (rv_adversarial, rv_adversarial_ci), (rv_gradmask, rv_gradmask_ci), (rv_rrr, rv_rrr_ci)],
    "RSNA No VPC": [(rn_baseline, rn_baseline_ci), (rn_actdiff, rn_actdiff_ci), (rn_masked, rn_masked_ci),
                    (rn_adversarial, rn_adversarial_ci), (rn_gradmask, rn_gradmask_ci), (rn_rrr, rn_rrr_ci)],
}

# long table: two rows per epoch (lower / upper edge), seaborn draws mean + min-max band
rows = []
for panel, pairs in SERIES.items():
    for name, (mean, ci) in zip(EXPERIMENTS, pairs):
        assert len(mean) == len(EPOCHS) and len(ci) == len(EPOCHS), (panel, name)
        for e, m, c in zip(EPOCHS, mean, ci):
            rows.append((panel, name, e, (m - c) / 100))
            rows.append((panel, name, e, (m + c) / 100))
df = pd.DataFrame(rows, columns=["Panel", "Experiment", "Epoch", "Valid AUC"])

sns.set_style("white")
plt.rcParams["font.family"] = ["DejaVu Sans"]

fig = plt.figure(figsize=(10.47, 4.89), dpi=100)
axes = fig.subplots(2, 2, sharex=True)
fig.subplots_adjust(left=0.065, right=0.872, top=0.945, bottom=0.102, wspace=0.198, hspace=0.21)

for ax, panel in zip(axes.flat, PANELS):
    sns.lineplot(data=df[df["Panel"] == panel], x="Epoch", y="Valid AUC", hue="Experiment",
                 hue_order=EXPERIMENTS, palette=COLORS, errorbar=("pi", 100),
                 linewidth=1.5, alpha=0.9, legend=False, ax=ax)
    ax.set_title(panel, fontsize=10.5)
    ax.set_ylim(-0.04, 1.05)
    ax.set_yticks([0.0, 0.2, 0.4, 0.6, 0.8, 1.0])
    ax.set_xticks([0, 20, 40, 60, 80, 100])
    ax.tick_params(labelsize=9)
    ax.set_ylabel("Valid AUC", fontsize=10.5)
    ax.set_xlabel("Epoch", fontsize=10.5)
    for sp in ax.spines.values():
        sp.set_color(".25")

for ax in axes[0]:
    ax.set_xlabel("")

# old-style seaborn legend: hue name as first, handle-less entry
handles = [Line2D([], [], linestyle="none")]
handles += [Line2D([], [], color=c, linewidth=1.5, alpha=0.8) for c in COLORS]
labels = ["Experiment"] + EXPERIMENTS
fig.legend(handles, labels, loc="upper left", bbox_to_anchor=(0.874, 0.915), frameon=False,
           fontsize=9, handlelength=2.3, labelspacing=0.45)

fig.savefig("out.png", dpi=100)
